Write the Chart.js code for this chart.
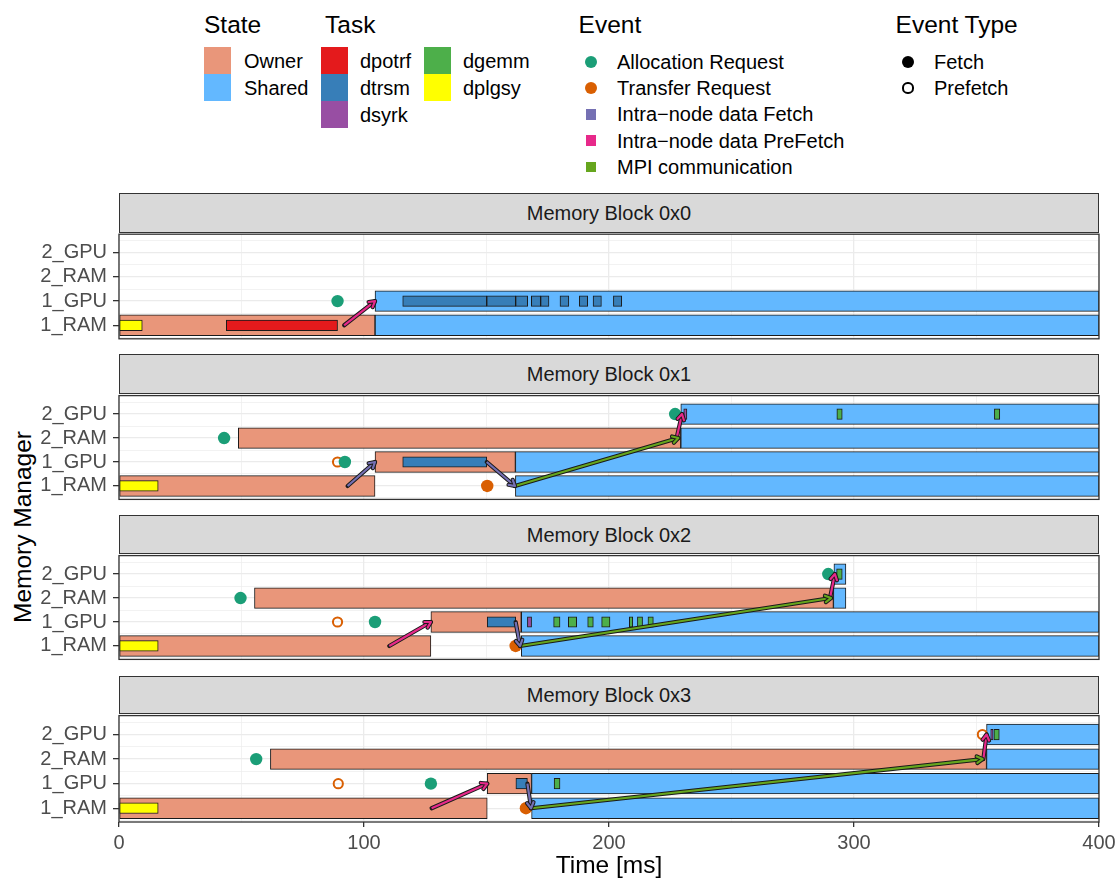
<!DOCTYPE html>
<html>
<head>
<meta charset="utf-8">
<title>Memory block timeline</title>
<script src="https://cdn.jsdelivr.net/npm/chart.js@4.4.1/dist/chart.umd.min.js"></script>
<style>
  html, body { margin: 0; padding: 0; background: #ffffff; }
  body { position: relative; width: 1117px; height: 882px; overflow: hidden;
         font-family: "Liberation Sans", Arial, Helvetica, sans-serif; }
  canvas { position: absolute; left: 0; }
  .txt { position: absolute; line-height: 1; white-space: nowrap; transform: translateY(-50%); color: #000; }
  .box { position: absolute; box-sizing: border-box; }
  .strip { position: absolute; box-sizing: border-box; background: #d9d9d9; border: 1.3px solid #333333;
           display: flex; align-items: center; justify-content: center; font-size: 20px; color: #1a1a1a; line-height: 1; }
  #ytitle { position: absolute; left: 22.5px; top: 527px; transform: translate(-50%, -50%) rotate(-90deg);
            font-size: 24.5px; line-height: 1; white-space: nowrap; color: #000; }
</style>
</head>
<body>
<div id="ytitle">Memory Manager</div>
<script>
// ---------- categories and tick labels ----------
const managers = ['1_RAM', '1_GPU', '2_RAM', '2_GPU'];
const blockNames = ['Memory Block 0x0', 'Memory Block 0x1', 'Memory Block 0x2', 'Memory Block 0x3'];
const timeTicks = [0, 100, 200, 300, 400];
const timeGrid = [0, 50, 100, 150, 200, 250, 300, 350, 400];
const rowGrid = [0.5, 1, 1.5, 2, 2.5, 3, 3.5, 4, 4.5];

const stateNames = ['Owner', 'Shared'];
const stateColors = ['#E9967A', '#63B8FF'];
const taskNames = ['dpotrf', 'dtrsm', 'dsyrk', 'dgemm', 'dplgsy'];
const taskColors = ['#E41A1C', '#377EB8', '#984EA3', '#4DAF4A', '#FFFF00'];
const eventNames = ['Allocation Request', 'Transfer Request', 'Intra−node data Fetch', 'Intra−node data PreFetch', 'MPI communication'];
const eventColors = ['#1B9E77', '#D95F02', '#7570B3', '#E7298A', '#66A61E'];
const eventTypes = ['Fetch', 'Prefetch'];

// ---------- Memory Block 0x0 ----------
// [manager, start ms, end ms, state]
const block0States = [
  ['1_RAM', 0, 104.5, 'Owner'],
  ['1_RAM', 104.5, 400, 'Shared'],
  ['1_GPU', 104.5, 400, 'Shared']
];
// [manager, start ms, end ms, task]
const block0Tasks = [
  ['1_RAM', 0, 9.5, 'dplgsy'],
  ['1_RAM', 43.8, 89.2, 'dpotrf'],
  ['1_GPU', 115.8, 150.1, 'dtrsm'],
  ['1_GPU', 150.1, 161.9, 'dtrsm'],
  ['1_GPU', 161.9, 166.8, 'dtrsm'],
  ['1_GPU', 168.3, 172.1, 'dtrsm'],
  ['1_GPU', 172.1, 175.5, 'dtrsm'],
  ['1_GPU', 180.0, 183.6, 'dtrsm'],
  ['1_GPU', 187.9, 191.3, 'dtrsm'],
  ['1_GPU', 193.5, 196.9, 'dtrsm'],
  ['1_GPU', 201.8, 205.2, 'dtrsm']
];
// [manager, time ms, event, event type]
const block0Events = [
  ['1_GPU', 89.2, 'Allocation Request', 'Fetch']
];
// [event, from manager, from ms, to manager, to ms]
const block0Links = [
  ['Intra−node data PreFetch', '1_RAM', 91.9, '1_GPU', 104.5]
];

// ---------- Memory Block 0x1 ----------
const block1States = [
  ['1_RAM', 0, 104.5, 'Owner'],
  ['1_RAM', 161.8, 400, 'Shared'],
  ['1_GPU', 104.5, 161.8, 'Owner'],
  ['1_GPU', 161.8, 400, 'Shared'],
  ['2_RAM', 48.7, 229.3, 'Owner'],
  ['2_RAM', 229.3, 400, 'Shared'],
  ['2_GPU', 229.3, 400, 'Shared']
];
const block1Tasks = [
  ['1_RAM', 0, 16, 'dplgsy'],
  ['1_GPU', 115.8, 150.1, 'dtrsm'],
  ['2_GPU', 230.5, 231.8, 'dsyrk'],
  ['2_GPU', 293.0, 295.2, 'dgemm'],
  ['2_GPU', 357.3, 359.5, 'dgemm']
];
const block1Events = [
  ['2_RAM', 42.9, 'Allocation Request', 'Fetch'],
  ['1_GPU', 89.2, 'Transfer Request', 'Prefetch'],
  ['1_GPU', 92.2, 'Allocation Request', 'Fetch'],
  ['1_RAM', 150.3, 'Transfer Request', 'Fetch'],
  ['2_GPU', 227.0, 'Allocation Request', 'Fetch']
];
const block1Links = [
  ['Intra−node data Fetch', '1_RAM', 93.3, '1_GPU', 104.5],
  ['Intra−node data Fetch', '1_GPU', 150.1, '1_RAM', 161.6],
  ['MPI communication', '1_RAM', 161.6, '2_RAM', 228.3],
  ['Intra−node data PreFetch', '2_RAM', 227.6, '2_GPU', 229.8]
];

// ---------- Memory Block 0x2 ----------
const block2States = [
  ['1_RAM', 0, 127.3, 'Owner'],
  ['1_RAM', 164.2, 400, 'Shared'],
  ['1_GPU', 127.3, 164.2, 'Owner'],
  ['1_GPU', 164.2, 400, 'Shared'],
  ['2_RAM', 55.3, 291.6, 'Owner'],
  ['2_RAM', 291.6, 296.7, 'Shared'],
  ['2_GPU', 291.8, 296.7, 'Shared']
];
const block2Tasks = [
  ['1_RAM', 0, 16, 'dplgsy'],
  ['1_GPU', 150.3, 161.9, 'dtrsm'],
  ['1_GPU', 166.7, 168.4, 'dsyrk'],
  ['1_GPU', 177.4, 180.0, 'dgemm'],
  ['1_GPU', 183.4, 186.8, 'dgemm'],
  ['1_GPU', 191.3, 193.6, 'dgemm'],
  ['1_GPU', 197.0, 200.4, 'dgemm'],
  ['1_GPU', 208.3, 209.7, 'dgemm'],
  ['1_GPU', 211.6, 213.7, 'dgemm'],
  ['1_GPU', 215.9, 218.1, 'dgemm'],
  ['2_GPU', 292.9, 295.2, 'dgemm']
];
const block2Events = [
  ['2_RAM', 49.6, 'Allocation Request', 'Fetch'],
  ['1_GPU', 89.2, 'Transfer Request', 'Prefetch'],
  ['1_GPU', 104.5, 'Allocation Request', 'Fetch'],
  ['1_RAM', 161.9, 'Transfer Request', 'Fetch'],
  ['2_GPU', 289.5, 'Allocation Request', 'Fetch']
];
const block2Links = [
  ['Intra−node data PreFetch', '1_RAM', 110.3, '1_GPU', 127.3],
  ['Intra−node data Fetch', '1_GPU', 161.9, '1_RAM', 163.7],
  ['MPI communication', '1_RAM', 163.7, '2_RAM', 290.6],
  ['Intra−node data PreFetch', '2_RAM', 290.2, '2_GPU', 292.2]
];

// ---------- Memory Block 0x3 ----------
const block3States = [
  ['1_RAM', 0, 150.3, 'Owner'],
  ['1_RAM', 168.4, 400, 'Shared'],
  ['1_GPU', 150.3, 168.4, 'Owner'],
  ['1_GPU', 168.4, 400, 'Shared'],
  ['2_RAM', 61.8, 354.1, 'Owner'],
  ['2_RAM', 354.1, 400, 'Shared'],
  ['2_GPU', 354.1, 400, 'Shared']
];
const block3Tasks = [
  ['1_RAM', 0, 16, 'dplgsy'],
  ['1_GPU', 162.0, 166.7, 'dtrsm'],
  ['1_GPU', 177.6, 180.0, 'dgemm'],
  ['2_GPU', 355.8, 356.8, 'dsyrk'],
  ['2_GPU', 357.1, 359.3, 'dgemm']
];
const block3Events = [
  ['2_RAM', 56.0, 'Allocation Request', 'Fetch'],
  ['1_GPU', 89.5, 'Transfer Request', 'Prefetch'],
  ['1_GPU', 127.3, 'Allocation Request', 'Fetch'],
  ['1_RAM', 166.1, 'Transfer Request', 'Fetch'],
  ['2_GPU', 352.4, 'Transfer Request', 'Prefetch']
];
const block3Links = [
  ['Intra−node data PreFetch', '1_RAM', 127.6, '1_GPU', 150.3],
  ['Intra−node data Fetch', '1_GPU', 166.7, '1_RAM', 168.2],
  ['MPI communication', '1_RAM', 168.2, '2_RAM', 352.5],
  ['Intra−node data PreFetch', '2_RAM', 352.8, '2_GPU', 354.1]
];

const blocks = [
  [block0States, block0Tasks, block0Events, block0Links],
  [block1States, block1Tasks, block1Events, block1Links],
  [block2States, block2Tasks, block2Events, block2Links],
  [block3States, block3Tasks, block3Events, block3Links]
];

// ---------- page layout ----------
const W = 1117, H = 882;
const PLOT_LEFT = 119, PLOT_RIGHT = 1099;
const stripTops = [193, 354, 515, 676];
const panelTops = [232, 393, 553, 713];
const PLOT_H = 109;
const Y_MIN = 0.44, Y_MAX = 4.77;
const PX_PER_ROW = PLOT_H / (Y_MAX - Y_MIN);
const STATE_PX = 0.82 * PX_PER_ROW;
const TASK_PX = 0.42 * PX_PER_ROW;
const FONT = '"Liberation Sans", Arial, Helvetica, sans-serif';

Chart.defaults.font.family = FONT;

const rowOf = name => managers.indexOf(name) + 1;
const colorOf = (name, names, colors) => colors[names.indexOf(name)];

function buildDatasets(states, tasks, events, links) {
  const ds = [];
  stateNames.forEach((s, k) => ds.push({
    type: 'bar', indexAxis: 'y', order: 4, grouped: false, barThickness: STATE_PX,
    backgroundColor: stateColors[k], borderColor: '#1a1a1a', borderWidth: 1, borderSkipped: false,
    data: states.filter(r => r[3] === s).map(r => ({ y: rowOf(r[0]), x: [r[1], r[2]] }))
  }));
  taskNames.forEach((t, k) => ds.push({
    type: 'bar', indexAxis: 'y', order: 3, grouped: false, barThickness: TASK_PX,
    backgroundColor: taskColors[k], borderColor: '#1a1a1a', borderWidth: 1, borderSkipped: false,
    data: tasks.filter(r => r[3] === t).map(r => ({ y: rowOf(r[0]), x: [r[1], r[2]] }))
  }));
  eventNames.forEach((e, k) => eventTypes.forEach(kind => {
    const pts = events.filter(r => r[2] === e && r[3] === kind);
    if (!pts.length) return;
    const filled = kind === 'Fetch';
    ds.push({
      type: 'scatter', order: 2, showLine: false,
      data: pts.map(r => ({ x: r[1], y: rowOf(r[0]) })),
      pointStyle: 'circle',
      pointRadius: filled ? 6.2 : 4.6,
      pointBackgroundColor: filled ? eventColors[k] : 'rgba(0,0,0,0)',
      pointBorderColor: eventColors[k],
      pointBorderWidth: filled ? 0 : 2
    });
  }));
  links.forEach(l => {
    const pts = [{ x: l[2], y: rowOf(l[1]) }, { x: l[4], y: rowOf(l[3]) }];
    const col = colorOf(l[0], eventNames, eventColors);
    ds.push({ type: 'line', order: 1, data: pts, borderColor: '#1a1a1a', borderWidth: 4.2,
              borderCapStyle: 'round', pointRadius: 0, fill: false, tension: 0 });
    ds.push({ type: 'line', order: 0, data: pts, borderColor: col, borderWidth: 2.2,
              pointRadius: 0, fill: false, tension: 0, arrowColor: col });
  });
  return ds;
}

// arrow heads on the transfer links, plus the panel frame
const panelDecor = {
  id: 'panelDecor',
  afterDatasetsDraw(chart) {
    const ctx = chart.ctx;
    chart.data.datasets.forEach((d, i) => {
      if (!d.arrowColor) return;
      const pts = chart.getDatasetMeta(i).data;
      const a = pts[0], b = pts[pts.length - 1];
      const ang = Math.atan2(b.y - a.y, b.x - a.x);
      const L = 6.5, spread = Math.PI / 6;
      const p1 = [b.x - L * Math.cos(ang - spread), b.y - L * Math.sin(ang - spread)];
      const p2 = [b.x - L * Math.cos(ang + spread), b.y - L * Math.sin(ang + spread)];
      ctx.save();
      ctx.lineCap = 'round';
      ctx.lineJoin = 'round';
      [['#1a1a1a', 4.2], [d.arrowColor, 2.2]].forEach(([c, w]) => {
        ctx.beginPath();
        ctx.moveTo(p1[0], p1[1]);
        ctx.lineTo(b.x, b.y);
        ctx.lineTo(p2[0], p2[1]);
        ctx.strokeStyle = c;
        ctx.lineWidth = w;
        ctx.stroke();
      });
      ctx.restore();
    });
    const { left, top, right, bottom } = chart.chartArea;
    ctx.save();
    ctx.strokeStyle = '#333333';
    ctx.lineWidth = 1.3;
    ctx.strokeRect(left, top, right - left, bottom - top);
    ctx.restore();
  }
};

const isMajorX = v => timeTicks.includes(v);
const isMajorY = v => Number.isInteger(v);

function makePanel(i) {
  const [states, tasks, events, links] = blocks[i];
  const last = i === blocks.length - 1;

  const strip = document.createElement('div');
  strip.className = 'strip';
  strip.style.left = PLOT_LEFT + 'px';
  strip.style.width = (PLOT_RIGHT - PLOT_LEFT) + 'px';
  strip.style.top = stripTops[i] + 'px';
  strip.style.height = (panelTops[i] - stripTops[i] + 1) + 'px';
  strip.textContent = blockNames[i];
  document.body.appendChild(strip);

  const canvas = document.createElement('canvas');
  const top = panelTops[i] - 4;
  const height = last ? H - top : PLOT_H + 8;
  canvas.width = W;
  canvas.height = height;
  canvas.style.top = top + 'px';
  document.body.appendChild(canvas);

  new Chart(canvas, {
    type: 'scatter',
    data: { datasets: buildDatasets(states, tasks, events, links) },
    options: {
      responsive: false,
      animation: false,
      events: [],
      layout: { padding: { top: 4, bottom: last ? 0 : 4, left: 0, right: W - PLOT_RIGHT } },
      plugins: { legend: { display: false }, tooltip: { enabled: false } },
      scales: {
        x: {
          type: 'linear', position: 'bottom', min: 0, max: 400, offset: false,
          afterBuildTicks: s => { s.ticks = timeGrid.map(v => ({ value: v })); },
          afterFit: s => {
            s.height = last ? H - (panelTops[i] + PLOT_H) : 0;
            s.paddingLeft = 0; s.paddingRight = 0;
          },
          border: { display: false },
          grid: {
            offset: false,
            color: '#ebebeb',
            lineWidth: c => (c.tick && isMajorX(c.tick.value)) ? 1.3 : 0.65,
            drawTicks: last,
            tickLength: 5,
            tickWidth: 1.3,
            tickColor: c => (c.tick && isMajorX(c.tick.value)) ? '#333333' : 'rgba(0,0,0,0)'
          },
          ticks: {
            display: last, autoSkip: false, maxRotation: 0, padding: 4,
            color: '#4d4d4d', font: { size: 20 },
            callback: v => isMajorX(v) ? String(v) : ''
          },
          title: {
            display: last, text: 'Time [ms]', color: '#000000',
            font: { size: 24.5 }, padding: { top: 0, bottom: 1 }
          }
        },
        y: {
          type: 'linear', position: 'left', min: Y_MIN, max: Y_MAX, offset: false,
          afterBuildTicks: s => { s.ticks = rowGrid.map(v => ({ value: v })); },
          afterFit: s => {
            s.width = PLOT_LEFT;
            s.paddingTop = 0; s.paddingBottom = 0;
          },
          border: { display: false },
          grid: {
            offset: false,
            color: '#ebebeb',
            lineWidth: c => (c.tick && isMajorY(c.tick.value)) ? 1.3 : 0.65,
            tickLength: 6,
            tickWidth: 1.3,
            tickColor: c => (c.tick && isMajorY(c.tick.value)) ? '#333333' : 'rgba(0,0,0,0)'
          },
          ticks: {
            autoSkip: false, padding: 6, color: '#4d4d4d', font: { size: 20 },
            callback: v => isMajorY(v) ? managers[v - 1] : ''
          }
        }
      }
    },
    plugins: [panelDecor]
  });
}

blocks.forEach((b, i) => makePanel(i));

// ---------- legends ----------
function addText(txt, x, yc, size) {
  const el = document.createElement('div');
  el.className = 'txt';
  el.textContent = txt;
  el.style.left = x + 'px';
  el.style.top = yc + 'px';
  el.style.fontSize = size + 'px';
  document.body.appendChild(el);
}
function addBox(x, y, w, h, css) {
  const el = document.createElement('div');
  el.className = 'box';
  el.style.left = x + 'px';
  el.style.top = y + 'px';
  el.style.width = w + 'px';
  el.style.height = h + 'px';
  Object.assign(el.style, css);
  document.body.appendChild(el);
}

const TITLE_PX = 24.5, LABEL_PX = 20, TITLE_Y = 25;
const KEY = 27, KEY_TOP = 47.3;

// State
addText('State', 204, TITLE_Y, TITLE_PX);
stateNames.forEach((s, k) => {
  addBox(204, KEY_TOP + k * KEY, KEY, KEY, { background: stateColors[k] });
  addText(s, 244, KEY_TOP + k * KEY + KEY / 2, LABEL_PX);
});

// Task (three rows per column)
addText('Task', 325, TITLE_Y, TITLE_PX);
const taskCols = [[320.5, 360], [424.3, 463]];
taskNames.forEach((t, k) => {
  const col = taskCols[Math.floor(k / 3)], row = k % 3;
  addBox(col[0], KEY_TOP + row * KEY, KEY, KEY, { background: taskColors[k] });
  addText(t, col[1], KEY_TOP + row * KEY + KEY / 2, LABEL_PX);
});

// Event
addText('Event', 578.6, TITLE_Y, TITLE_PX);
const EV_Y0 = 61.7, EV_STEP = 26.3;
eventNames.forEach((e, k) => {
  const yc = EV_Y0 + k * EV_STEP;
  if (k < 2) addBox(591 - 6, yc - 6, 12, 12, { background: eventColors[k], borderRadius: '50%' });
  else addBox(591 - 5.3, yc - 5.3, 10.6, 10.6, { background: eventColors[k] });
  addText(e, 617, yc, LABEL_PX);
});

// Event Type
addText('Event Type', 895.6, TITLE_Y, TITLE_PX);
eventTypes.forEach((t, k) => {
  const yc = EV_Y0 + k * EV_STEP;
  if (k === 0) addBox(908 - 6, yc - 6, 12, 12, { background: '#000', borderRadius: '50%' });
  else addBox(908 - 5.6, yc - 5.6, 11.2, 11.2, { border: '2px solid #000', borderRadius: '50%' });
  addText(t, 934, yc, LABEL_PX);
});
</script>
</body>
</html>
